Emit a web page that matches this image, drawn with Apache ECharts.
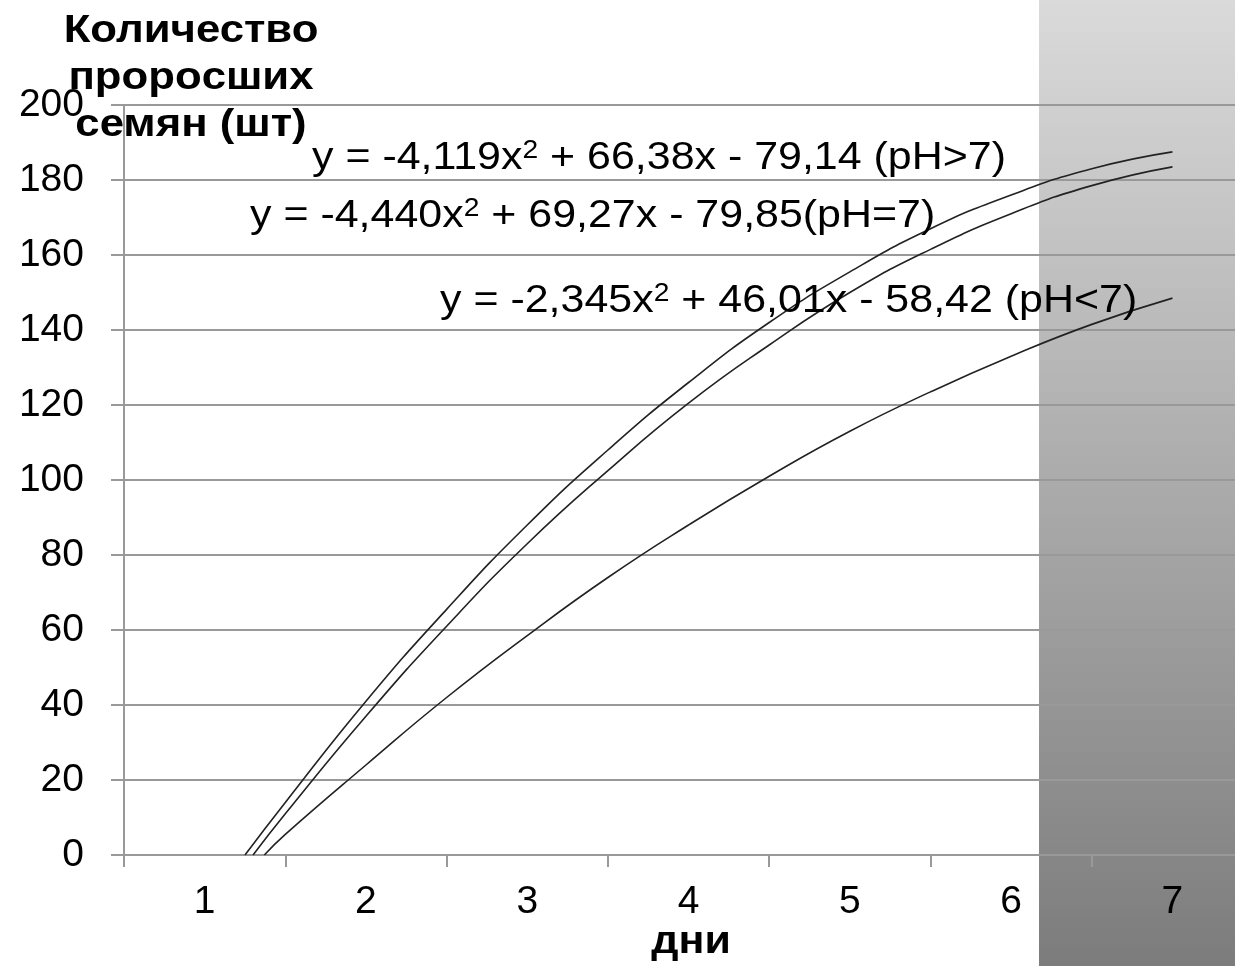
<!DOCTYPE html>
<html>
<head>
<meta charset="utf-8">
<script src="https://cdn.jsdelivr.net/npm/echarts@6/dist/echarts.min.js"></script>
<style>html,body{margin:0;padding:0;background:#fff}#c{width:1235px;height:966px}</style>
</head>
<body>
<div id="c"></div>
<script>
// Categories and tick labels
var days = ['1', '2', '3', '4', '5', '6', '7'];
var dayPos = [1, 2, 3, 4, 5, 6, 7];
var dayBounds = [0.5, 1.5, 2.5, 3.5, 4.5, 5.5, 6.5];
var yTicks = [0, 20, 40, 60, 80, 100, 120, 140, 160, 180, 200];

// Trend curves (x = day, y = seeds)
var xPH7 = [1.25, 1.5, 2, 2.5, 3, 3.5, 4, 4.5, 5, 5.5, 6, 6.5, 7];
var yPH7 = [0, 14, 41, 65.5, 88, 108, 126, 142, 155.5, 167, 176, 183, 187.5];

var xPHgt7 = [1.3, 1.5, 2, 2.5, 3, 3.5, 4, 4.5, 5, 5.5, 6, 6.5, 7];
var yPHgt7 = [0, 11, 37, 61, 83, 102.5, 120.5, 136, 150, 161.5, 171, 178.5, 183.5];

var xPHlt7 = [1.37, 1.5, 2, 2.5, 3, 3.5, 4, 4.5, 5, 5.5, 6, 6.5, 7];
var yPHlt7 = [0, 5.5, 24, 42, 58.5, 74, 88, 101, 113, 123.5, 133, 141.5, 148.5];

// Texts
var titleLines = ['Количество', 'пророcших', 'семян (шт)'];
var xName = 'дни';
var eqGt7 = ['y = -4,119x', '2', ' + 66,38x - 79,14 (pH>7)'];
var eqEq7 = ['y = -4,440x', '2', ' + 69,27x - 79,85(pH=7)'];
var eqLt7 = ['y = -2,345x', '2', ' + 46,01x - 58,42 (pH<7)'];

function pairs(xs, ys) { return xs.map(function (x, i) { return [x, ys[i]]; }); }

var FONT = '"Liberation Sans", Arial, sans-serif';
var chart = echarts.init(document.getElementById('c'), null, { renderer: 'canvas' });

function eqText(parts, x, y) {
  return {
    type: 'text', x: x, y: y, z: 100, scaleX: 1.13,
    style: {
      text: '{n|' + parts[0] + '}{s|' + parts[1] + '}{n|' + parts[2] + '}',
      rich: {
        n: { fontFamily: FONT, fontSize: 38, fill: '#000', verticalAlign: 'bottom' },
        s: { fontFamily: FONT, fontSize: 25, fill: '#000', verticalAlign: 'top', padding: [0, 0, 14, 0] }
      }
    }
  };
}

var lineStyle = { color: '#222', width: 1.6 };
var gridLeft = 124, unitPx = 161.3;
var xMax = 0.5 + (1235 - gridLeft) / unitPx;

chart.setOption({
  animation: false,
  backgroundColor: '#fff',
  grid: { left: gridLeft, top: 105, right: 0, height: 750, containLabel: false },
  xAxis: {
    type: 'value', min: 0.5, max: xMax,
    axisLine: { lineStyle: { color: '#999', width: 2 } },
    axisTick: { show: true, length: 12, customValues: dayBounds, lineStyle: { color: '#999', width: 2 } },
    axisLabel: { color: '#000', fontFamily: FONT, fontSize: 39, margin: 28, customValues: dayPos,
      showMinLabel: true, showMaxLabel: true,
      formatter: function (v) { var i = dayPos.indexOf(Math.round(v)); return i >= 0 ? days[i] : ''; } },
    splitLine: { show: false }
  },
  yAxis: {
    type: 'value', min: 0, max: 200, interval: 20,
    axisLine: { show: true, lineStyle: { color: '#999', width: 2 } },
    axisTick: { show: true, length: 13, lineStyle: { color: '#999', width: 2 } },
    axisLabel: { color: '#000', fontFamily: FONT, fontSize: 39, margin: 40,
      formatter: function (v) { return yTicks.indexOf(v) >= 0 ? String(v) : ''; } },
    splitLine: { show: true, lineStyle: { color: '#999', width: 2 } }
  },
  graphic: [
    { type: 'rect', x: 1039, y: 0, z: -10, silent: true,
      shape: { width: 196, height: 966 },
      style: { fill: new echarts.graphic.LinearGradient(0, 0, 0, 1, [
        { offset: 0, color: '#dadada' }, { offset: 1, color: '#7c7c7c' }]) } },
    { type: 'text', x: 191, y: 8, z: 100, scaleX: 1.15,
      style: { text: titleLines.join('\n'), font: 'bold 38px ' + FONT, fill: '#000',
        textAlign: 'center', lineHeight: 47 } },
    { type: 'text', x: 691, y: 924, z: 100, scaleX: 1.13,
      style: { text: xName, font: 'bold 38px ' + FONT, fill: '#000', textAlign: 'center' } },
    eqText(eqGt7, 312, 139),
    eqText(eqEq7, 250, 197),
    eqText(eqLt7, 440, 282)
  ],
  series: [
    { type: 'line', name: 'pH=7', data: pairs(xPH7, yPH7), smooth: true,
      showSymbol: false, lineStyle: lineStyle, z: 5 },
    { type: 'line', name: 'pH>7', data: pairs(xPHgt7, yPHgt7), smooth: true,
      showSymbol: false, lineStyle: lineStyle, z: 5 },
    { type: 'line', name: 'pH<7', data: pairs(xPHlt7, yPHlt7), smooth: true,
      showSymbol: false, lineStyle: lineStyle, z: 5 }
  ]
});
</script>
</body>
</html>
